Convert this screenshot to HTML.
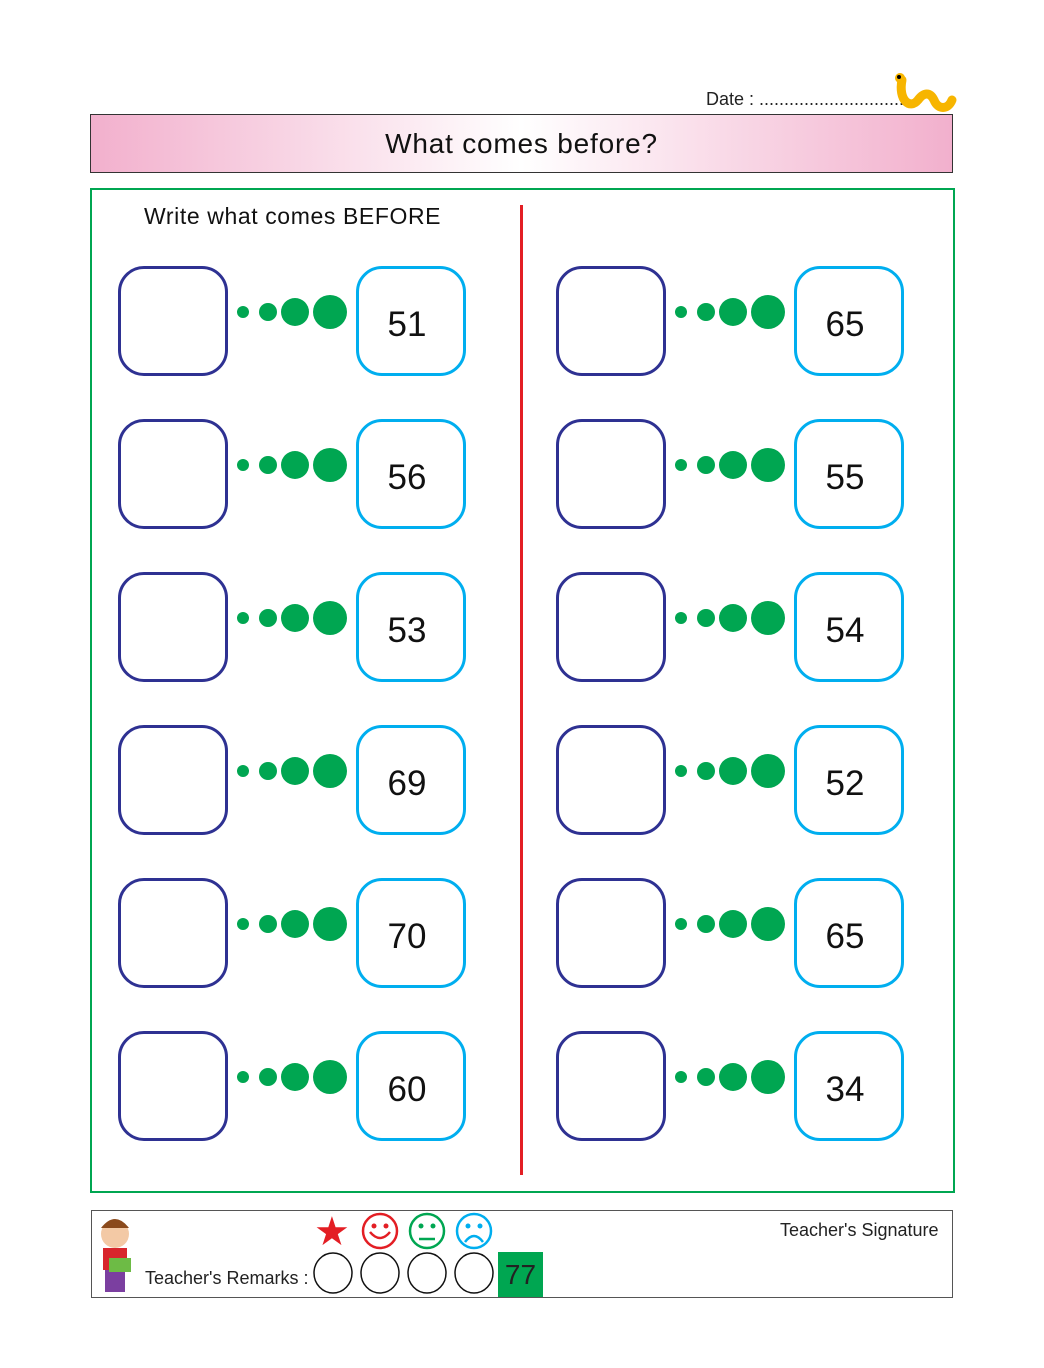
<!DOCTYPE html>
<html><head><style>
body{margin:0;width:1044px;height:1368px;background:#fff;position:relative;font-family:"Liberation Sans",sans-serif;overflow:hidden}
.a{position:absolute}
.lb{position:absolute;width:104px;height:104px;border:3px solid #2e3192;border-radius:26px}
.rb{position:absolute;box-sizing:border-box;width:110px;height:110px;border:3px solid #00aeef;border-radius:26px;font-size:35px;color:#111;text-align:center;line-height:35px;padding-top:38px;padding-right:8px}
.d{position:absolute;background:#00a651;border-radius:50%}
</style></head><body>
<div class="a" style="left:706px;top:89px;font-size:18px;color:#222">Date : ..............................</div>
<svg class="a" style="left:890px;top:70px" width="70" height="46"><path d="M12 10 C8 30 20 40 28 30 C34 22 40 22 44 30 C48 40 58 40 62 30" stroke="#f7b500" stroke-width="9" fill="none" stroke-linecap="round"/><circle cx="10" cy="8" r="5" fill="#f7b500"/><circle cx="9" cy="7" r="2" fill="#000"/></svg>
<div class="a" style="left:90px;top:114px;width:861px;height:57px;border:1.5px solid #333;background:linear-gradient(90deg,#f2b0cd,#fff 50%,#f2b0cd);text-align:center;line-height:58px;font-size:28px;letter-spacing:0.8px;color:#111">What comes before?</div>
<div class="a" style="left:90px;top:188px;width:861px;height:1001px;border:2px solid #00a651"></div>
<div class="a" style="left:144px;top:203px;font-size:23px;letter-spacing:0.6px;color:#111">Write what comes BEFORE</div>
<div class="a" style="left:520px;top:205px;width:3px;height:970px;background:#e31e24"></div>
<div id="g"></div>
<script>
var L=[51,56,53,69,70,60],R=[65,55,54,52,65,34],h='';
for(var i=0;i<6;i++){var y=266+i*153;[[0,L[i]],[438,R[i]]].forEach(function(c){var x=118+c[0];
h+='<div class="lb" style="left:'+x+'px;top:'+y+'px"></div>';
h+='<div class="rb" style="left:'+(x+238)+'px;top:'+y+'px">'+c[1]+'</div>';
[[125,6],[150,9],[177,14],[212,17]].forEach(function(d){h+='<div class="d" style="left:'+(x+d[0]-d[1])+'px;top:'+(y+46-d[1])+'px;width:'+2*d[1]+'px;height:'+2*d[1]+'px"></div>';});});}
document.getElementById('g').innerHTML=h;
</script>
<div class="a" style="left:91px;top:1210px;width:860px;height:86px;border:1.5px solid #555"></div>
<svg class="a" style="left:93px;top:1214px" width="45" height="84"><circle cx="22" cy="20" r="14" fill="#f3c9a5"/><path d="M8 14 Q22 -4 36 14" fill="#8b4a1c"/><rect x="10" y="34" width="24" height="22" fill="#d8262c"/><rect x="12" y="56" width="20" height="22" fill="#7b3fa0"/><rect x="16" y="44" width="22" height="14" fill="#6dbb45"/></svg>
<div class="a" style="left:145px;top:1268px;font-size:18px;color:#222">Teacher's Remarks :</div>
<div class="a" style="left:780px;top:1220px;font-size:18px;color:#222">Teacher's Signature</div>
<div class="a" style="left:314px;top:1212px;font-size:40px;line-height:40px;color:#e31e24">★</div>
<svg class="a" style="left:360px;top:1212px" width="140" height="40">
<g fill="none" stroke-width="2.5"><g stroke="#e31e24"><circle cx="20" cy="19" r="17"/><path d="M10 20 Q20 32 30 20"/></g>
<g stroke="#00a651"><circle cx="67" cy="19" r="17"/><path d="M59 27 H75"/></g>
<g stroke="#00aeef"><circle cx="114" cy="19" r="17"/><path d="M105 30 Q114 18 123 30"/></g></g>
<g><circle cx="14" cy="14" r="2.5" fill="#e31e24"/><circle cx="26" cy="14" r="2.5" fill="#e31e24"/><circle cx="61" cy="14" r="2.5" fill="#00a651"/><circle cx="73" cy="14" r="2.5" fill="#00a651"/><circle cx="108" cy="14" r="2.5" fill="#00aeef"/><circle cx="120" cy="14" r="2.5" fill="#00aeef"/></g></svg>
<svg class="a" style="left:312px;top:1252px" width="186" height="42" fill="none" stroke="#111" stroke-width="1.5"><ellipse cx="21" cy="21" rx="19" ry="20"/><ellipse cx="68" cy="21" rx="19" ry="20"/><ellipse cx="115" cy="21" rx="19" ry="20"/><ellipse cx="162" cy="21" rx="19" ry="20"/></svg>
<div class="a" style="left:498px;top:1252px;width:45px;height:45px;background:#00a651;color:#222;font-size:28px;text-align:center;line-height:45px">77</div>
</body></html>
